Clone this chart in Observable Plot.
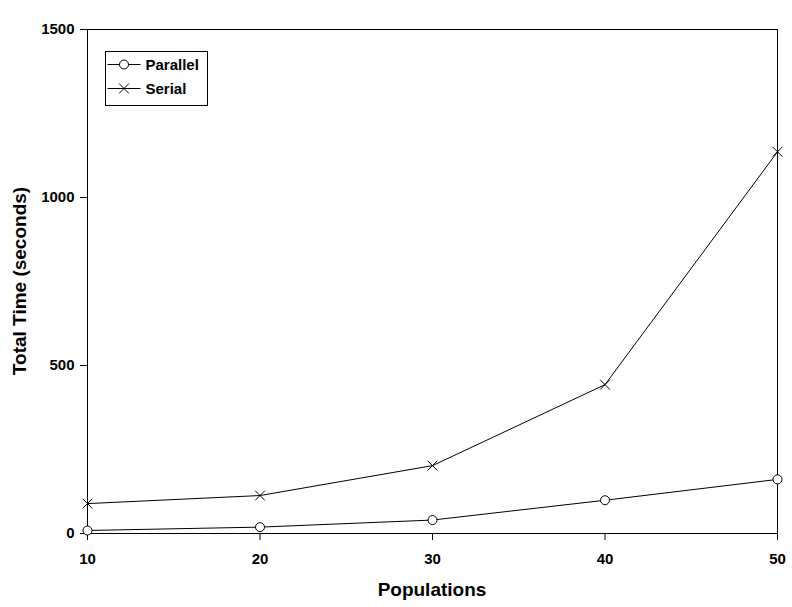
<!DOCTYPE html>
<html>
<head>
<meta charset="utf-8">
<script src="https://cdn.jsdelivr.net/npm/d3@7"></script>
<script src="https://cdn.jsdelivr.net/npm/@observablehq/plot@0.6"></script>
<style>
  html, body { margin: 0; padding: 0; background: #fff; }
  svg { display: block; font-family: "Liberation Sans", Arial, sans-serif; }
</style>
</head>
<body>
<div id="chart"></div>
<script>
const populations = [10, 20, 30, 40, 50];
const parallelTimes = [9, 19, 40, 99, 161];
const serialTimes = [89, 113, 202, 443, 1136];
const xTicks = [10, 20, 30, 40, 50];
const yTicks = [0, 500, 1000, 1500];
const seriesNames = ["Parallel", "Serial"];
const xTitle = "Populations";
const yTitle = "Total Time (seconds)";

const parallel = populations.map((p, i) => ({x: p, y: parallelTimes[i], s: seriesNames[0]}));
const serial = populations.map((p, i) => ({x: p, y: serialTimes[i], s: seriesNames[1]}));

const W = 792, H = 607;
const chart = Plot.plot({
  width: W,
  height: H,
  marginLeft: 87,
  marginRight: 15,
  marginTop: 29,
  marginBottom: 74,
  style: {fontFamily: "'Liberation Sans', Arial, sans-serif", background: "#fff", color: "#000"},
  x: {domain: [10, 50]},
  y: {domain: [0, 1500]},
  marks: [
    Plot.frame({stroke: "#000", strokeWidth: 1}),
    Plot.axisX({ticks: xTicks, tickSize: 7, tickPadding: 13, tickFormat: d => String(d), label: null, fontSize: 15, fontWeight: "bold", stroke: "#000", color: "#000"}),
    Plot.axisY({ticks: yTicks, tickSize: 7, tickPadding: 6, tickFormat: d => String(d), label: null, fontSize: 15, fontWeight: "bold", stroke: "#000", color: "#000"}),
    Plot.line(serial, {x: "x", y: "y", stroke: "#000", strokeWidth: 1}),
    Plot.line(parallel, {x: "x", y: "y", stroke: "#000", strokeWidth: 1}),
    Plot.dot(serial, {x: "x", y: "y", symbol: "times", r: 4.5, stroke: "#000", strokeWidth: 1}),
    Plot.dot(parallel, {x: "x", y: "y", symbol: "circle", r: 4.5, fill: "#fff", stroke: "#000", strokeWidth: 1})
  ]
});

document.getElementById("chart").appendChild(chart);
const svg = d3.select(chart);

// Axis titles
svg.append("text")
  .attr("x", (87 + (W - 15)) / 2)
  .attr("y", 596)
  .attr("text-anchor", "middle")
  .attr("font-size", 19)
  .attr("font-weight", "bold")
  .attr("fill", "#000")
  .text(xTitle);

svg.append("text")
  .attr("transform", `translate(26, ${(29 + 533) / 2}) rotate(-90)`)
  .attr("text-anchor", "middle")
  .attr("font-size", 19)
  .attr("font-weight", "bold")
  .attr("fill", "#000")
  .text(yTitle);

// Legend
const lg = svg.append("g").attr("transform", "translate(105.5, 51.5)");
lg.append("rect").attr("width", 102).attr("height", 54).attr("fill", "#fff").attr("stroke", "#000");
seriesNames.forEach((name, i) => {
  const cy = 13 + i * 24;
  const g = lg.append("g").attr("transform", `translate(0, ${cy})`);
  g.append("line").attr("x1", 2).attr("x2", 35).attr("y1", 0).attr("y2", 0).attr("stroke", "#000");
  if (name === "Parallel") {
    g.append("circle").attr("cx", 18.5).attr("cy", 0).attr("r", 4.5).attr("fill", "#fff").attr("stroke", "#000");
  } else {
    g.append("path").attr("transform", "translate(18.5,0)").attr("d", d3.symbol(d3.symbolTimes, 64)()).attr("fill", "none").attr("stroke", "#000");
  }
  g.append("text").attr("x", 40).attr("y", 0).attr("dy", "0.35em")
    .attr("text-anchor", "start")
    .attr("font-size", 15).attr("font-weight", "bold").attr("fill", "#000").text(name);
});
</script>
</body>
</html>
